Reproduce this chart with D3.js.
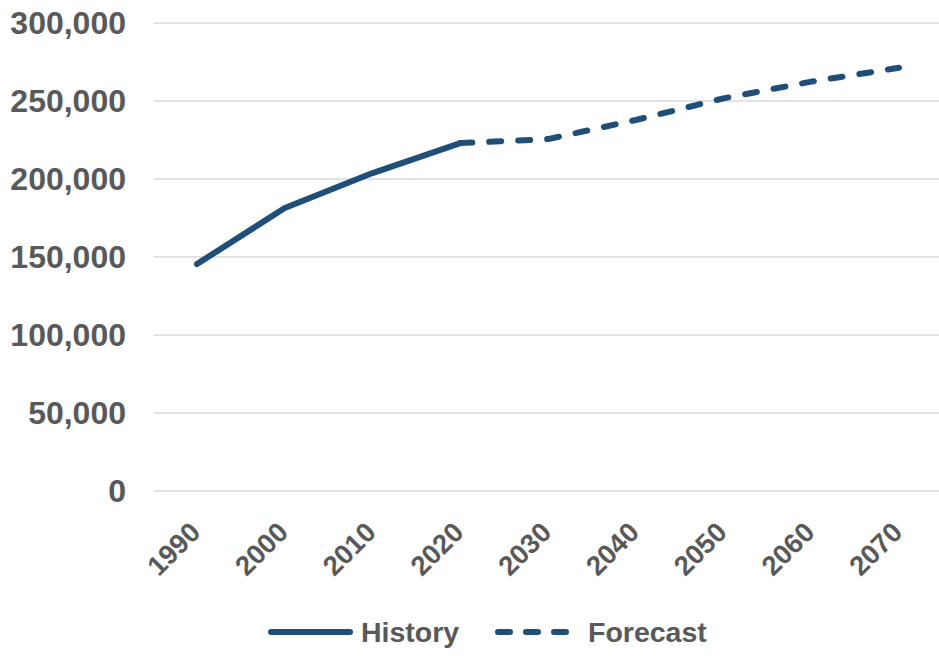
<!DOCTYPE html>
<html><head><meta charset="utf-8">
<script src="https://cdn.jsdelivr.net/npm/d3@7"></script>
<style>body{margin:0;background:#fff;}svg{display:block;}</style>
</head><body>
<svg id="c" width="939" height="656"></svg>
<script>
const years = ["1990","2000","2010","2020","2030","2040","2050","2060","2070"];
const history = [145500, 181400, 203800, 223000, null, null, null, null, null];
const forecast = [null, null, null, 223000, 225600, 237800, 251700, 262400, 271300];
const yTicks = [0, 50000, 100000, 150000, 200000, 250000, 300000];
const seriesNames = ["History", "Forecast"];

const svg = d3.select("#c");
const color = "#1F4E79";
const textColor = "#595959";
const x = d3.scalePoint().domain(years).range([197, 899]);
const y = d3.scaleLinear().domain([0, 300000]).range([491, 23]);

// gridlines
svg.append("g").selectAll("line").data(yTicks).join("line")
  .attr("x1", 154).attr("x2", 939)
  .attr("y1", d => y(d)).attr("y2", d => y(d))
  .attr("stroke", "#d9d9d9").attr("stroke-width", 1.5);

// y labels
const fmt = d3.format(",");
svg.append("g").selectAll("text").data(yTicks).join("text")
  .attr("x", 126).attr("y", d => y(d)).attr("dy", "0.35em")
  .attr("text-anchor", "end")
  .attr("font-family", "Liberation Sans, Arial, sans-serif")
  .attr("font-weight", "bold").attr("font-size", 32)
  .attr("fill", textColor).text(d => fmt(d));

// x labels
svg.append("g").selectAll("text").data(years).join("text")
  .attr("transform", d => `translate(${x(d) + 5},534) rotate(-45)`)
  .attr("text-anchor", "end")
  .attr("font-family", "Liberation Sans, Arial, sans-serif")
  .attr("font-weight", "bold").attr("font-size", 27.5)
  .attr("fill", textColor).text(d => d);

const line = d3.line().defined(d => d[1] != null).x(d => x(d[0])).y(d => y(d[1]));
svg.append("path").datum(years.map((yr, i) => [yr, history[i]]))
  .attr("d", line).attr("fill", "none").attr("stroke", color)
  .attr("stroke-width", 6).attr("stroke-linecap", "round").attr("stroke-linejoin", "round");
svg.append("path").datum(years.map((yr, i) => [yr, forecast[i]]))
  .attr("d", line).attr("fill", "none").attr("stroke", color)
  .attr("stroke-width", 6).attr("stroke-linecap", "round").attr("stroke-linejoin", "round")
  .attr("stroke-dasharray", "12,17");

// legend
const lg = svg.append("g");
const legendItems = [
  {name: seriesNames[0], x1: 271, x2: 350, dash: null, tx: 361},
  {name: seriesNames[1], x1: 498, x2: 572, dash: "12,16", tx: 588}
];
legendItems.forEach(it => {
  lg.append("line").attr("x1", it.x1).attr("x2", it.x2).attr("y1", 632).attr("y2", 632)
    .attr("stroke", color).attr("stroke-width", 6).attr("stroke-linecap", "round")
    .attr("stroke-dasharray", it.dash);
  lg.append("text").attr("x", it.tx).attr("y", 632).attr("dy", "0.35em")
    .attr("font-family", "Liberation Sans, Arial, sans-serif")
    .attr("font-weight", "bold").attr("font-size", 28.5)
    .attr("fill", textColor).text(it.name);
});
</script>
</body></html>
